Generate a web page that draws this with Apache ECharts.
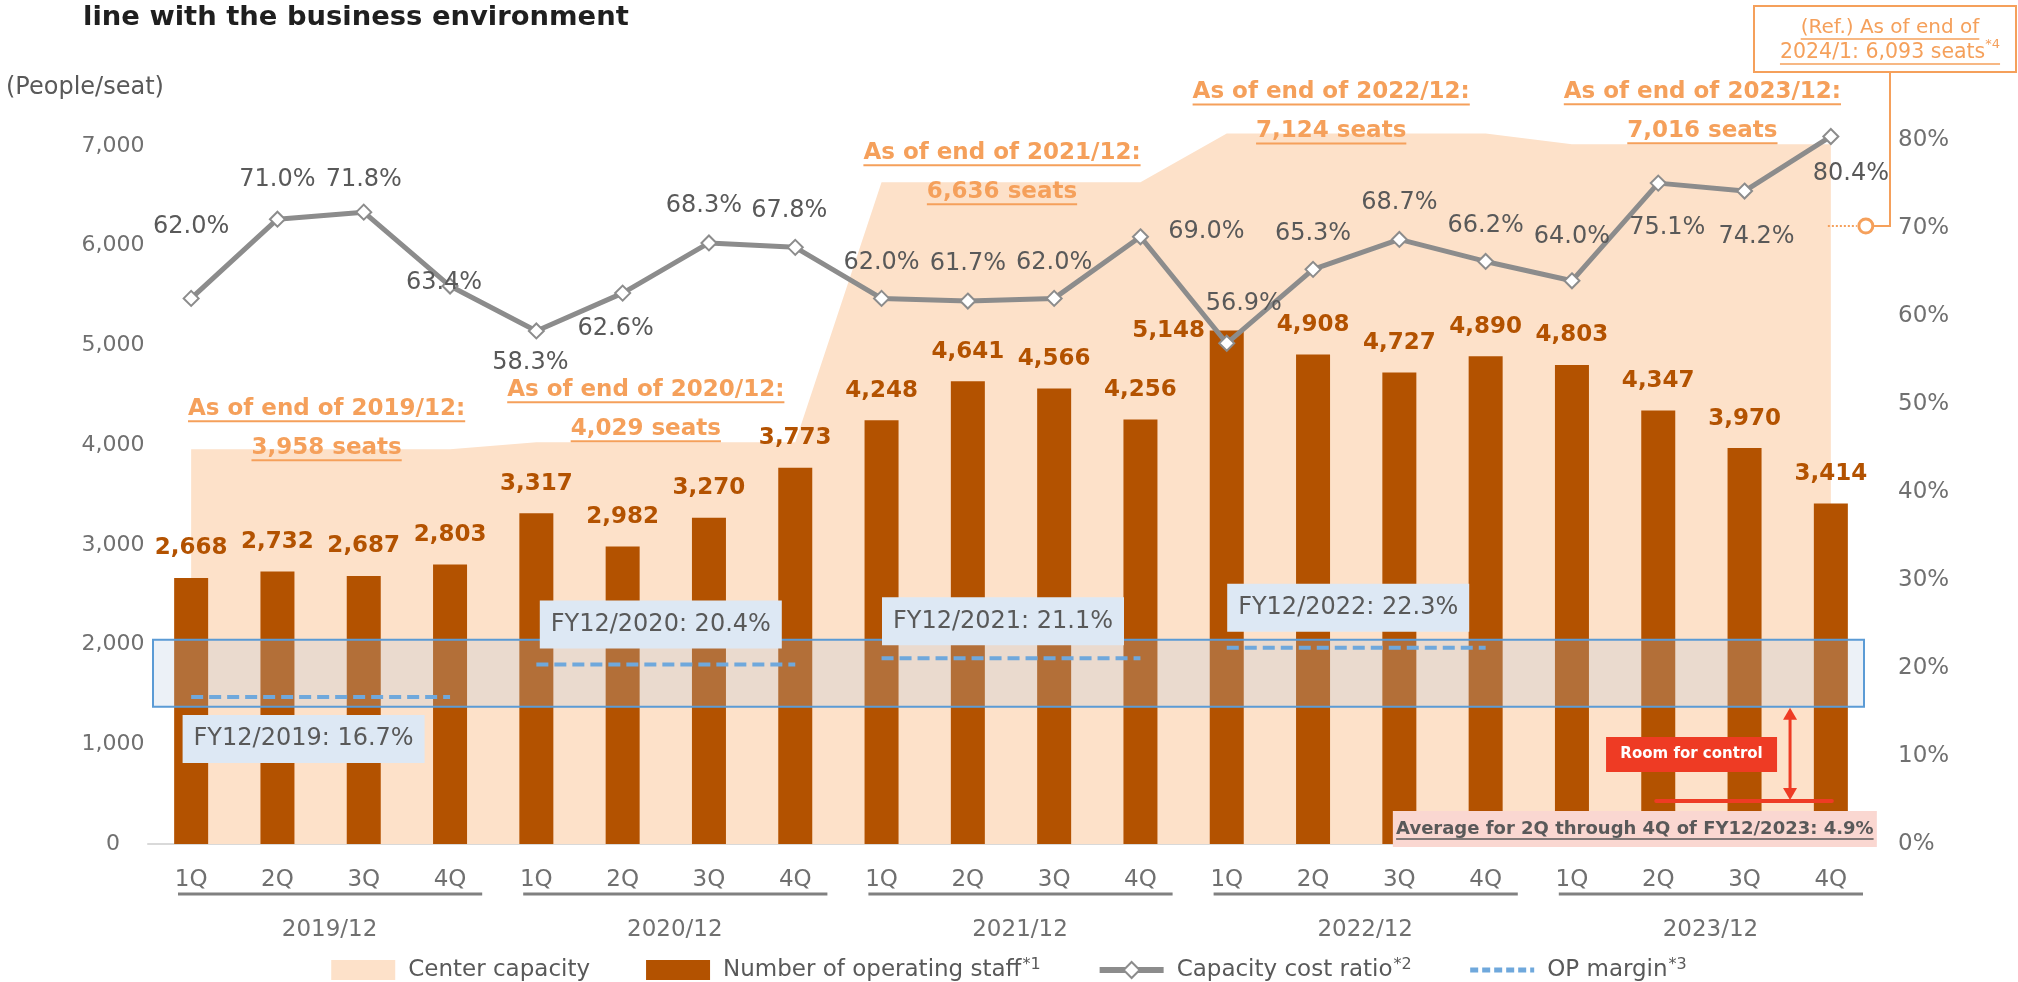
<!DOCTYPE html>
<html>
<head>
<meta charset="utf-8">
<script src="https://cdn.jsdelivr.net/npm/echarts@6/dist/echarts.min.js"></script>
<style>
html,body{margin:0;padding:0;background:#ffffff;}
#chart{width:2018px;height:982px;}
</style>
</head>
<body>
<div id="chart"></div>
<script>
// ---------------- DATA ----------------
const quarters = ['1Q', '2Q', '3Q', '4Q'];
const years = ['2019/12', '2020/12', '2021/12', '2022/12', '2023/12'];
const categories = years.flatMap(y => quarters.map(q => y + ' ' + q));
const centerCapacity = [3958, 3958, 3958, 3958, 4029, 4029, 4029, 4029, 6636, 6636, 6636, 6636, 7124, 7124, 7124, 7124, 7016, 7016, 7016, 7016];
const operatingStaff = [2668, 2732, 2687, 2803, 3317, 2982, 3270, 3773, 4248, 4641, 4566, 4256, 5148, 4908, 4727, 4890, 4803, 4347, 3970, 3414];
const capacityCostRatio = [62.0, 71.0, 71.8, 63.4, 58.3, 62.6, 68.3, 67.8, 62.0, 61.7, 62.0, 69.0, 56.9, 65.3, 68.7, 66.2, 64.0, 75.1, 74.2, 80.4];
const opMargin = [16.7, 20.4, 21.1, 22.3];            // FY12/2019 .. FY12/2022
const opMarginLabels = ['FY12/2019: 16.7%', 'FY12/2020: 20.4%', 'FY12/2021: 21.1%', 'FY12/2022: 22.3%'];
const opMarginBand = [15.6, 23.2];                    // shaded historical range (right axis, %)
const avgOpMargin2023 = 4.9;                          // 2Q-4Q FY12/2023
const capacityTitles = ['As of end of 2019/12:', 'As of end of 2020/12:', 'As of end of 2021/12:', 'As of end of 2022/12:', 'As of end of 2023/12:'];
const capacitySeats = ['3,958 seats', '4,029 seats', '6,636 seats', '7,124 seats', '7,016 seats'];
const leftTicks = [0, 1000, 2000, 3000, 4000, 5000, 6000, 7000];
const rightTicks = [0, 10, 20, 30, 40, 50, 60, 70, 80];

// ---------------- LAYOUT / STYLE (not data) ----------------
const F = '"DejaVu Sans", Verdana, sans-serif';
const ORANGE = '#F5A05B';
const BAR = '#B35200';
const PEACH = '#FDE1C9';
const GREY_TXT = '#595959';
const AXIS_TXT = '#707070';
const ratioLabelOffset = [[0,-72],[0,-39],[0,-32],[-6,-3],[-6,32],[-7,36],[-5,-37],[-6,-37],[0,-36],[0,-37],[0,-36],[66,-5],[17,-40],[0,-36],[0,-37],[0,-36],[0,-44],[9,45],[12,46],[20,37]];
const capAnnoOffset = [[6,-1],[-20,-13],[-9,10],[-25,-2],[1,-13]];
const opBoxOffset = [[-17,42],[-5,-40],[-8,-37],[-8,-40]];

const chart = echarts.init(document.getElementById('chart'), null, {renderer: 'canvas'});

const opSeries = opMargin.map((v, g) => ({
  name: 'OP margin*3',
  type: 'line',
  yAxisIndex: 1,
  data: categories.map((c, i) => (Math.floor(i / 4) === g ? v : null)),
  symbol: 'none',
  lineStyle: {color: '#6FA8DC', width: 4, type: [12, 6]},
  itemStyle: {color: '#6FA8DC'},
  z: 4,
  silent: true
}));

const option = {
  animation: false,
  grid: {left: 148, right: 144, top: 96, bottom: 138, containLabel: false},
  xAxis: [{
    type: 'category',
    data: categories,
    boundaryGap: true,
    axisLine: {show: true, lineStyle: {color: '#D9D9D9', width: 2}},
    axisTick: {show: false},
    axisLabel: {formatter: v => v.split(' ')[1], fontFamily: F, fontSize: 23, color: AXIS_TXT, margin: 25}
  }, {
    type: 'category',
    data: years,
    position: 'bottom',
    axisLine: {show: false},
    axisTick: {show: false},
    axisLabel: {fontFamily: F, fontSize: 23, color: AXIS_TXT, margin: 75, padding: [0, 0, 0, 18]}
  }],
  yAxis: [{
    type: 'value', min: 0, max: 7500, interval: 1000,
    splitLine: {show: false}, axisLine: {show: false}, axisTick: {show: false},
    axisLabel: {formatter: v => (leftTicks.includes(v) ? v.toLocaleString('en-US') : ''), fontFamily: F, fontSize: 22, color: AXIS_TXT, margin: 35, align: 'center'}
  }, {
    type: 'value', min: 0, max: 85, interval: 10,
    splitLine: {show: false}, axisLine: {show: false}, axisTick: {show: false},
    axisLabel: {formatter: v => (rightTicks.includes(v) ? v + '%' : ''), fontFamily: F, fontSize: 23, color: AXIS_TXT, margin: 24}
  }],
  legend: {
    left: 'center', top: 952, itemWidth: 64, itemHeight: 20, itemGap: 56,
    selectedMode: false,
    textStyle: {fontFamily: F, fontSize: 23, color: GREY_TXT,
      rich: {n: {fontFamily: F, fontSize: 23, color: GREY_TXT, padding: [0, 0, 0, 8]}, s: {fontFamily: F, fontSize: 16, color: GREY_TXT, padding: [0, 0, 10, 1]}}},
    formatter: name => { const m = name.match(/^(.*)\*(\d)$/); return m ? '{n|' + m[1] + '}{s|*' + m[2] + '}' : '{n|' + name + '}'; },
    data: [
      {name: 'Center capacity', icon: 'rect'},
      {name: 'Number of operating staff*1', icon: 'rect'},
      {name: 'Capacity cost ratio*2', lineStyle: {width: 6, color: '#8C8C8C'}},
      {name: 'OP margin*3', itemStyle: {opacity: 0}, lineStyle: {width: 5, color: '#6FA8DC', type: [8, 4]}}
    ]
  },
  series: [{
    name: 'Center capacity',
    type: 'line',
    data: centerCapacity,
    symbol: 'none',
    lineStyle: {width: 0, color: PEACH},
    itemStyle: {color: PEACH},
    areaStyle: {color: PEACH, opacity: 1},
    z: 1,
    silent: true
  }, {
    name: 'Number of operating staff*1',
    type: 'bar',
    data: operatingStaff.map((v, i) => (i === 12 ? {value: v, label: {offset: [-58, 30]}} : v)),
    barWidth: 34,
    itemStyle: {color: BAR},
    label: {show: true, position: 'top', distance: 18, formatter: p => p.value.toLocaleString('en-US'),
      fontFamily: F, fontSize: 23, fontWeight: 'bold', color: BAR},
    z: 2,
    silent: true
  }, ...opSeries, {
    name: 'Capacity cost ratio*2',
    type: 'line',
    yAxisIndex: 1,
    data: capacityCostRatio.map((v, i) => ({value: v, label: {offset: ratioLabelOffset[i]}})),
    symbol: 'diamond',
    symbolSize: [15, 15],
    showAllSymbol: true,
    lineStyle: {color: '#8C8C8C', width: 5},
    itemStyle: {color: '#ffffff', borderColor: '#8C8C8C', borderWidth: 2},
    label: {show: true, position: 'inside', formatter: p => p.value.toFixed(1) + '%', fontFamily: F, fontSize: 24, color: GREY_TXT},
    z: 6,
    silent: true
  }]
};
chart.setOption(option);

// ---------------- ANNOTATIONS (positions derived from the chart scales) ----------------
const ctx = document.createElement('canvas').getContext('2d');
function tw(text, font) { ctx.font = font; return ctx.measureText(text).width; }
const X = i => chart.convertToPixel({xAxisIndex: 0}, i);
const YL = v => chart.convertToPixel({yAxisIndex: 0}, v);
const YR = v => chart.convertToPixel({yAxisIndex: 1}, v);
const step = X(1) - X(0);
const plotL = X(0) - step / 2, plotR = X(19) + step / 2, base = YL(0);

function txt(x, y, text, font, fill, z, align) {
  return {type: 'text', z: z, x: x, y: y, silent: true,
    style: {text: text, font: font, fill: fill, align: align || 'center', verticalAlign: 'middle', textAlign: align || 'center', textVerticalAlign: 'middle'}};
}
function ulText(x, y, text, font, fill, z, ul, lw) {
  const w = tw(text, font);
  return [txt(x, y, text, font, fill, z),
    {type: 'line', z: z, silent: true, shape: {x1: x - w / 2, y1: y + ul, x2: x + w / 2, y2: y + ul}, style: {stroke: fill, lineWidth: lw || 2}}];
}

const G = [];
// title (cut at the top) and axis unit
G.push({type: 'text', z: 10, x: 83, y: 18, silent: true, style: {text: 'line with the business environment', font: 'bold 27.4px ' + F, fill: '#1F1F1F', align: 'left', verticalAlign: 'middle', textAlign: 'left', textVerticalAlign: 'middle'}});
G.push({type: 'text', z: 10, x: 6, y: 88, silent: true, style: {text: '(People/seat)', font: '24px ' + F, fill: GREY_TXT, align: 'left', verticalAlign: 'middle', textAlign: 'left', textVerticalAlign: 'middle'}});

// year group lines
for (let g = 0; g < 5; g++) {
  const x1 = X(4 * g) - step / 2 + 30, x2 = X(4 * g + 3) + step / 2 - 11;
  G.push({type: 'line', z: 10, silent: true, shape: {x1: x1, y1: base + 50, x2: x2, y2: base + 50}, style: {stroke: '#808080', lineWidth: 3}});
}

// capacity annotations
for (let g = 0; g < 5; g++) {
  const cx = (X(4 * g) + X(4 * g + 3)) / 2 + capAnnoOffset[g][0];
  const y2 = YL(centerCapacity[4 * g + 3]) + capAnnoOffset[g][1];
  const font = 'bold 23px ' + F;
  G.push(...ulText(cx, y2 - 39, capacityTitles[g], font, ORANGE, 9, 12, 2));
  G.push(...ulText(cx, y2, capacitySeats[g], font, ORANGE, 9, 12, 2));
}

// shaded OP margin band
G.push({type: 'rect', z: 3, silent: true,
  shape: {x: plotL + 5, y: YR(opMarginBand[1]), width: plotR - 10 - (plotL + 5), height: YR(opMarginBand[0]) - YR(opMarginBand[1])},
  style: {fill: 'rgba(180,200,225,0.25)', stroke: '#5B9BD5', lineWidth: 2}});

// OP margin boxes
for (let g = 0; g < 4; g++) {
  const cx = (X(4 * g) + X(4 * g + 3)) / 2 + opBoxOffset[g][0];
  const cy = YR(opMargin[g]) + opBoxOffset[g][1];
  G.push({type: 'rect', z: 5, silent: true, shape: {x: cx - 121, y: cy - 24, width: 242, height: 48}, style: {fill: '#DDE8F4'}});
  G.push(txt(cx, cy, opMarginLabels[g], '24px ' + F, GREY_TXT, 5));
}

// room for control
const RED = '#EE3B24';
const yAvg = YR(avgOpMargin2023), yBandBot = YR(opMarginBand[0]);
G.push({type: 'line', z: 8, silent: true, shape: {x1: X(17) - 2, y1: yAvg, x2: X(19) + 1, y2: yAvg}, style: {stroke: RED, lineWidth: 4, lineCap: 'round'}});
const ax = X(18) + 45.5;
G.push({type: 'line', z: 8, silent: true, shape: {x1: ax, y1: yBandBot + 10, x2: ax, y2: yAvg - 10}, style: {stroke: RED, lineWidth: 3}});
G.push({type: 'polygon', z: 8, silent: true, shape: {points: [[ax, yBandBot + 1], [ax - 7, yBandBot + 13], [ax + 7, yBandBot + 13]]}, style: {fill: RED}});
G.push({type: 'polygon', z: 8, silent: true, shape: {points: [[ax, yAvg - 1], [ax - 7, yAvg - 13], [ax + 7, yAvg - 13]]}, style: {fill: RED}});
const rcx = X(18) - 53, rcy = YR(10) - 1.5;
G.push({type: 'rect', z: 8, silent: true, shape: {x: rcx - 85.5, y: rcy - 17.5, width: 171, height: 35}, style: {fill: RED}});
G.push(txt(rcx, rcy, 'Room for control', 'bold 15px ' + F, '#ffffff', 8));

// average box
const pbR = X(19) + 46, pbW = 484, pbCy = base - 15;
G.push({type: 'rect', z: 8, silent: true, shape: {x: pbR - pbW, y: pbCy - 18, width: pbW, height: 36}, style: {fill: '#FAD7D1'}});
G.push(...ulText(pbR - pbW / 2, pbCy, 'Average for 2Q through 4Q of FY12/2023: 4.9%', 'bold 18px ' + F, GREY_TXT, 8, 10, 1.5));

// reference box (2024/1)
const refCx = 1890;
G.push({type: 'rect', z: 9, silent: true, shape: {x: refCx - 136, y: 6, width: 262, height: 66}, style: {fill: '#ffffff', stroke: ORANGE, lineWidth: 2}});
G.push(...ulText(refCx, 28, '(Ref.) As of end of', '20px ' + F, ORANGE, 9, 11, 1.5));
{
  const l2 = '2024/1: 6,093 seats', f2 = '20.5px ' + F, fs = '13px ' + F;
  const w2 = tw(l2, f2), ws = tw('*4', fs), x0 = refCx - (w2 + ws) / 2;
  G.push({type: 'text', z: 9, x: x0, y: 53, silent: true, style: {text: l2, font: f2, fill: ORANGE, align: 'left', verticalAlign: 'middle', textAlign: 'left', textVerticalAlign: 'middle'}});
  G.push({type: 'text', z: 9, x: x0 + w2, y: 45, silent: true, style: {text: '*4', font: fs, fill: ORANGE, align: 'left', verticalAlign: 'middle', textAlign: 'left', textVerticalAlign: 'middle'}});
  G.push({type: 'line', z: 9, silent: true, shape: {x1: x0, y1: 64, x2: x0 + w2 + ws, y2: 64}, style: {stroke: ORANGE, lineWidth: 1.5}});
}
const refY = YR(70) - 2, refX = X(19) + 35;
G.push({type: 'polyline', z: 9, silent: true, shape: {points: [[refCx, 72], [refCx, refY], [refX + 8, refY]]}, style: {stroke: ORANGE, lineWidth: 2, fill: null}});
G.push({type: 'line', z: 9, silent: true, shape: {x1: X(19) - 3, y1: refY, x2: refX - 9, y2: refY}, style: {stroke: ORANGE, lineWidth: 2, lineDash: [2, 2]}});
G.push({type: 'circle', z: 9, silent: true, shape: {cx: refX, cy: refY, r: 7}, style: {fill: '#ffffff', stroke: ORANGE, lineWidth: 3}});

chart.setOption({graphic: {elements: G}});
</script>
</body>
</html>
